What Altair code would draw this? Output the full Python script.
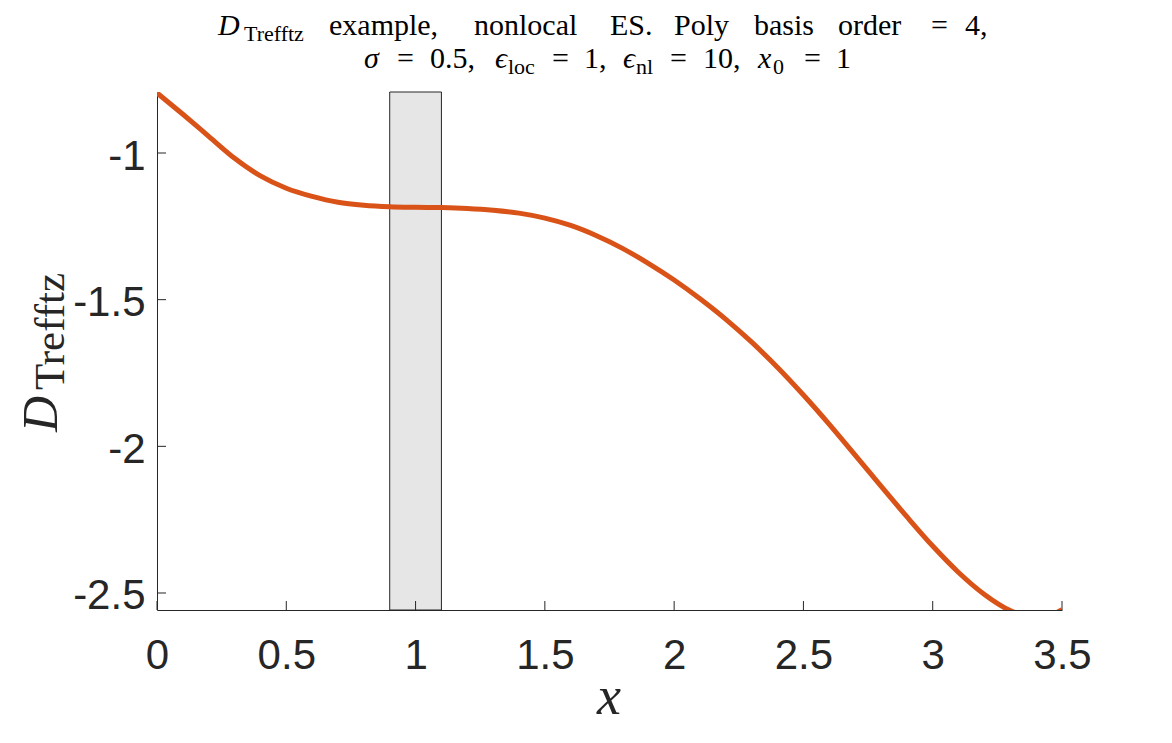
import altair as alt
import pandas as pd

# ---------------- data ----------------
X_VALS = [0.0, 0.1, 0.2, 0.3, 0.4, 0.5, 0.6, 0.7, 0.8, 0.9, 1.0, 1.1, 1.2, 1.3,
          1.4, 1.5, 1.6, 1.7, 1.8, 1.9, 2.0, 2.1, 2.2, 2.3, 2.4, 2.5, 2.6, 2.7,
          2.8, 2.9, 3.0, 3.1, 3.2, 3.3, 3.35, 3.4, 3.45, 3.5]
Y_VALS = [-0.795, -0.868, -0.943, -1.018, -1.078, -1.120, -1.148, -1.168, -1.178,
          -1.183, -1.185, -1.186, -1.189, -1.195, -1.205, -1.222, -1.247, -1.282,
          -1.325, -1.376, -1.433, -1.497, -1.567, -1.645, -1.731, -1.825, -1.925,
          -2.030, -2.136, -2.240, -2.340, -2.430, -2.505, -2.560, -2.576, -2.584,
          -2.578, -2.557]
X_TICKS = [0, 0.5, 1, 1.5, 2, 2.5, 3, 3.5]
Y_TICKS = [-2.5, -2, -1.5, -1]
X_DOMAIN = [0, 3.5]
Y_DOMAIN = [-2.558, -0.792]
BAND_X = [0.9, 1.1]

# ---------------- layout ----------------
W, H = 905, 518
OX, OY = 157, 92          # page position of plot origin
PAD = {"left": OX - 8, "top": OY - 8, "right": 100, "bottom": 120}
SERIF = "Liberation Serif"
SANS = "Liberation Sans"
AX = "#262626"
TS, SS = 30, 22           # title font size, subscript size
B1, B2 = 35, 68           # title baselines (page y)

# title pieces: text, page x, page baseline y, font size, italic
TITLE_PIECES = [
    ("D", 218, B1, TS, True), ("Trefftz", 244, B1 + 6, SS, False),
    ("example,", 329, B1, TS, False), ("nonlocal", 474, B1, TS, False),
    ("ES.", 610, B1, TS, False), ("Poly", 674, B1, TS, False),
    ("basis", 754, B1, TS, False), ("order", 838, B1, TS, False),
    ("=", 931, B1, TS, False), ("4,", 965, B1, TS, False),
    ("σ", 364, B2, TS, True), ("=", 397, B2, TS, False),
    ("0.5,", 430, B2, TS, False), ("ϵ", 495, B2, TS, True),
    ("loc", 508, B2 + 6, SS, False), ("=", 552, B2, TS, False),
    ("1,", 584, B2, TS, False), ("ϵ", 623, B2, TS, True),
    ("nl", 636, B2 + 6, SS, False), ("=", 670, B2, TS, False),
    ("10,", 703, B2, TS, False), ("x", 758, B2, TS, True),
    ("0", 773, B2 + 6, SS, False), ("=", 804, B2, TS, False),
    ("1", 836, B2, TS, False),
]
# y label pieces (rotated): text, page baseline x, page start y, size, italic
YLAB_PIECES = [("D", 57, 432, 50, True), ("Trefftz", 64, 390, 43, False)]
XLAB_PIECE = ("x", 609, 714, 54)


def pieces_df(pieces):
    return pd.DataFrame({
        "t": [p[0] for p in pieces],
        "px": [p[1] - OX for p in pieces],
        "py": [p[2] - OY for p in pieces],
        "s": [p[3] for p in pieces],
    })


xs = alt.Scale(domain=X_DOMAIN, nice=False, zero=False)
ys = alt.Scale(domain=Y_DOMAIN, nice=False, zero=False)

curve_df = pd.DataFrame({"x": X_VALS, "y": Y_VALS})
band_df = pd.DataFrame({"x": [BAND_X[0]], "x2": [BAND_X[1]],
                        "y": [Y_DOMAIN[0]], "y2": [Y_DOMAIN[1]]})
xt_df = pd.DataFrame({"v": X_TICKS})
yt_df = pd.DataFrame({"v": Y_TICKS})

band = alt.Chart(band_df).mark_rect(fill="#e6e6e6", stroke=AX, strokeWidth=1).encode(
    x=alt.X("x:Q", scale=xs, title=None,
            axis=alt.Axis(values=X_TICKS, labelExpr="'' + datum.value",
                          labelPadding=25, labelFlush=False)),
    x2="x2",
    y=alt.Y("y:Q", scale=ys, title=None,
            axis=alt.Axis(values=Y_TICKS, labelExpr="'' + datum.value",
                          labelPadding=12, labelOffset=3, labelFlush=False)),
    y2="y2",
)

line = alt.Chart(curve_df).mark_line(
    color="#D95319", strokeWidth=5, clip=True, interpolate="monotone"
).encode(x=alt.X("x:Q", scale=xs), y=alt.Y("y:Q", scale=ys))

xticks = alt.Chart(xt_df).mark_rule(color=AX, strokeWidth=1).encode(
    x=alt.X("v:Q", scale=xs), y=alt.value(H), y2=alt.value(H - 9))
yticks = alt.Chart(yt_df).mark_rule(color=AX, strokeWidth=1).encode(
    y=alt.Y("v:Q", scale=ys), x=alt.value(0), x2=alt.value(9))

main = alt.layer(band, line, xticks, yticks)


def text_layer(pieces, italic, angle=0, align="left", color="#000000"):
    df = pieces_df(pieces)
    mk = dict(font=SERIF, align=align, baseline="alphabetic", color=color,
              fontStyle="italic" if italic else "normal")
    if angle:
        mk["angle"] = angle
    return alt.Chart(df).mark_text(**mk).encode(
        x=alt.X("px:Q", scale=None, axis=None),
        y=alt.Y("py:Q", scale=None, axis=None),
        text="t:N",
        size=alt.Size("s:Q", scale=None, legend=None),
    )


t_norm = text_layer([p for p in TITLE_PIECES if not p[4]], False)
t_ital = text_layer([p for p in TITLE_PIECES if p[4]], True)
yl_ital = text_layer([p for p in YLAB_PIECES if p[4]], True, angle=270, color=AX)
yl_norm = text_layer([p for p in YLAB_PIECES if not p[4]], False, angle=270, color=AX)
xl = text_layer([XLAB_PIECE], True, align="center", color=AX)

chart = alt.layer(main, t_norm, t_ital, yl_ital, yl_norm, xl).resolve_scale(
    x="independent", y="independent", size="independent"
).properties(
    width=W, height=H, padding=PAD,
    autosize=alt.AutoSizeParams(type="none"),
    background="white",
).configure_view(stroke=None).configure_axis(
    domainColor=AX, domainWidth=1, ticks=False, grid=False,
    labelFont=SANS, labelFontSize=42, labelColor=AX, title=None,
)

chart.save("out.html", embed_options={"renderer": "svg", "actions": False})
